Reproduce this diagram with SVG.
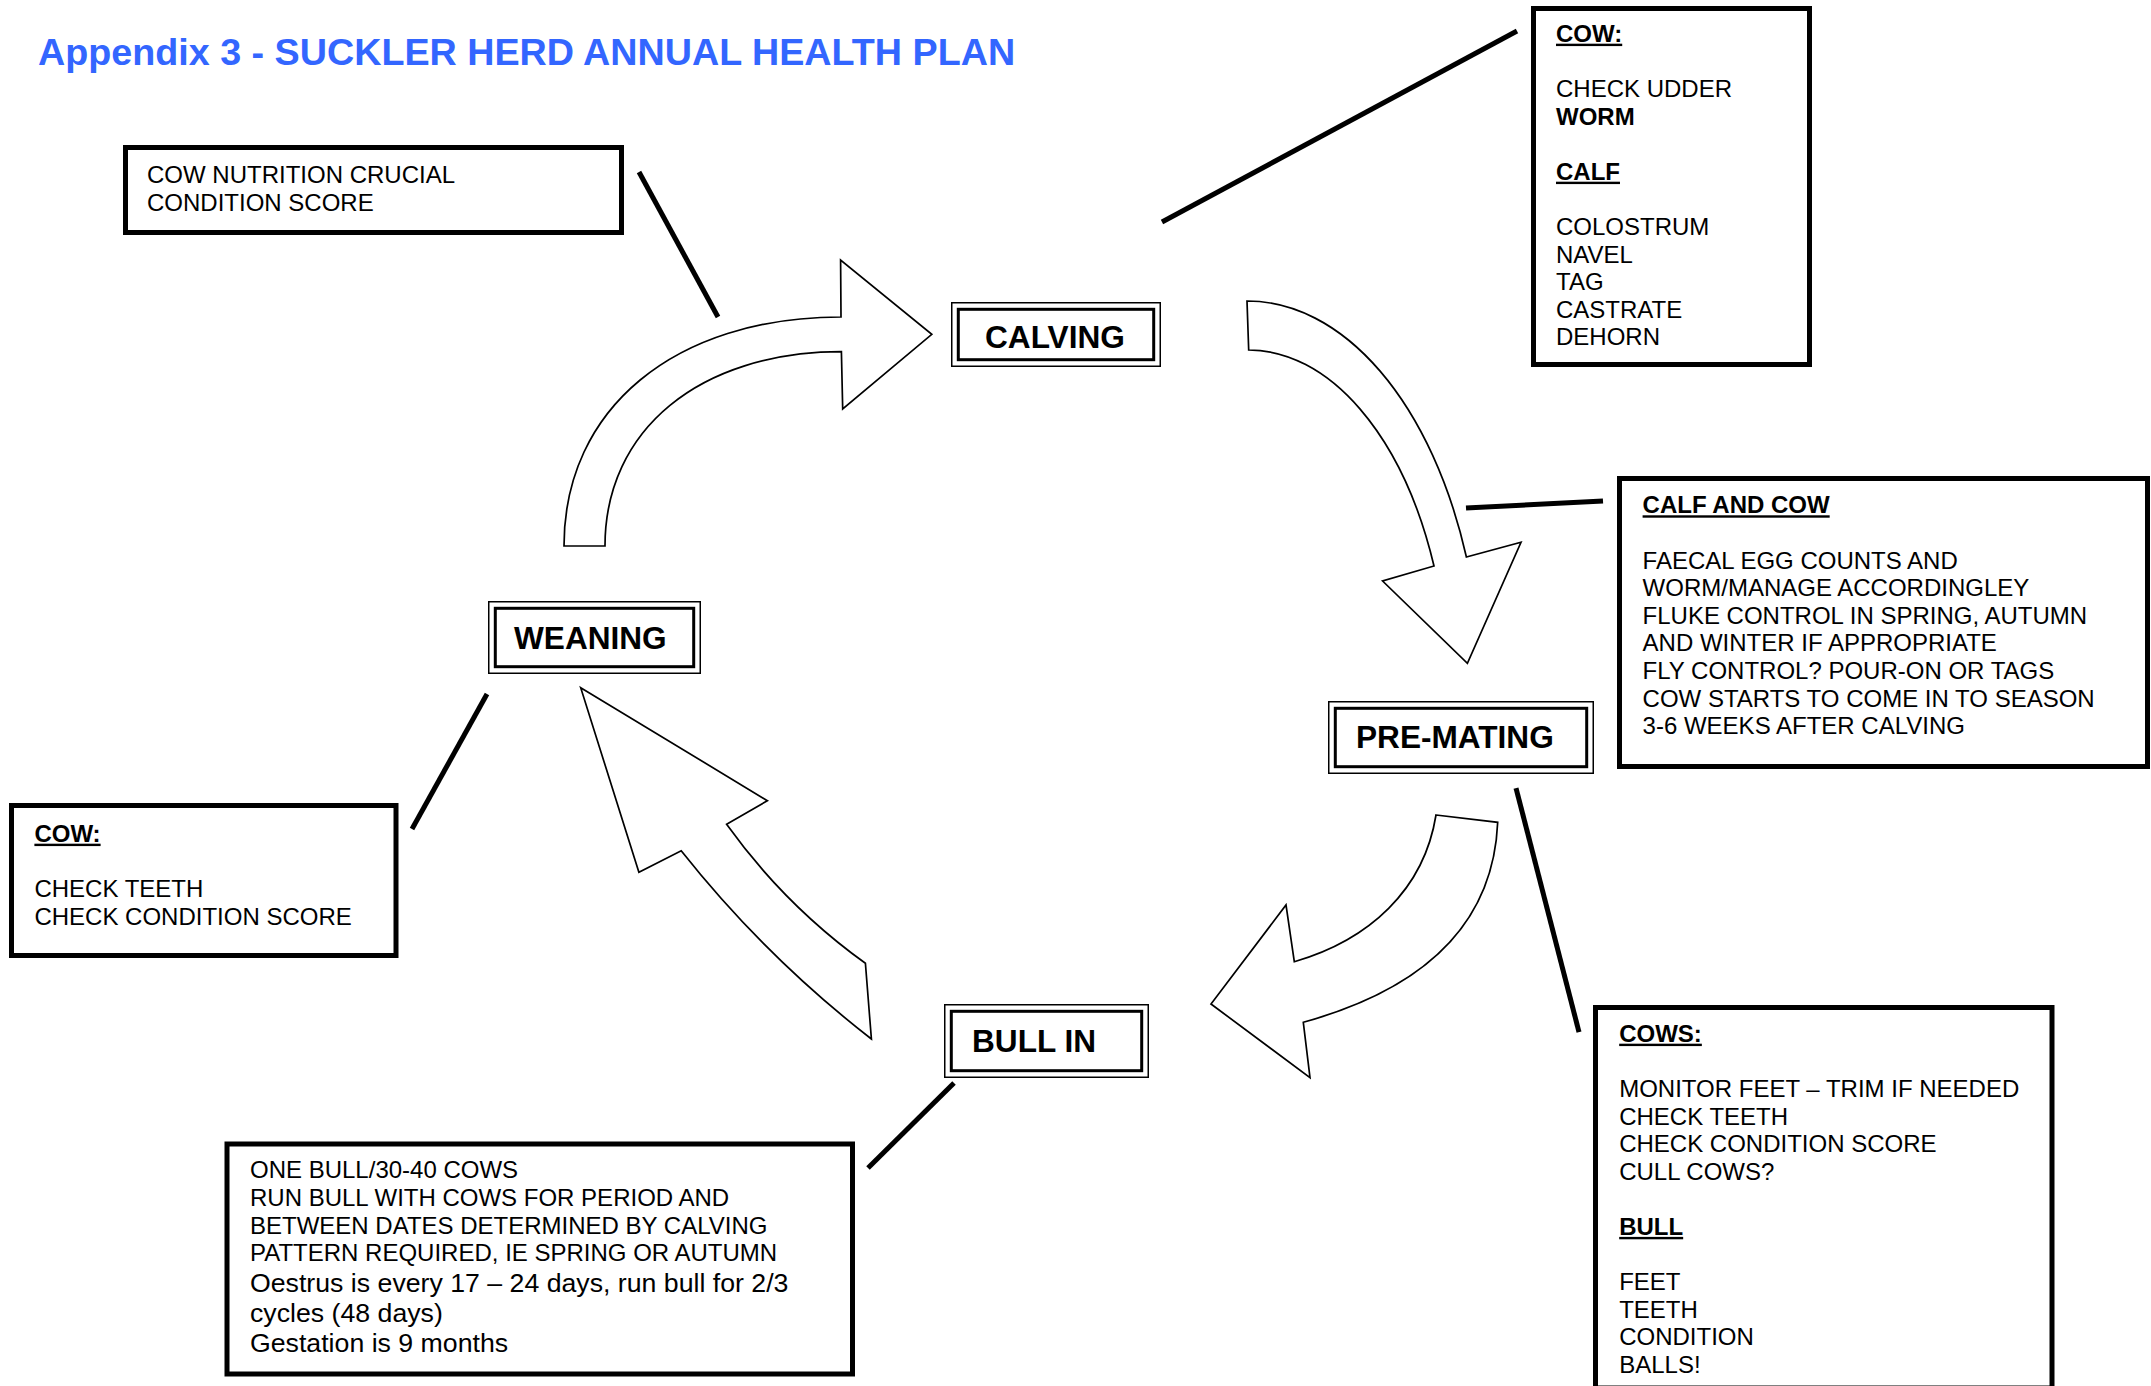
<svg xmlns="http://www.w3.org/2000/svg" width="2151" height="1386" viewBox="0 0 2151 1386">
<style>
text{font-family:"Liberation Sans",Arial,sans-serif;fill:#000;font-size:24px}
.b{font-weight:bold}
.u{text-decoration:underline}
.big{font-size:26.7px}
.title{font-size:37.7px;font-weight:bold;fill:#3366ff}
.stage{font-size:31.6px;font-weight:bold}
.box{fill:#fff;stroke:#000;stroke-width:5}
.so{fill:#fff;stroke:#000;stroke-width:1.5}
.si{fill:none;stroke:#000;stroke-width:3}
.arrow{fill:#fff;stroke:#000;stroke-width:1.7;stroke-linejoin:miter}
.conn{stroke:#000;stroke-width:5;fill:none}
</style>
<rect width="2151" height="1386" fill="#fff"/>
<text class="title" x="38" y="65">Appendix 3 - SUCKLER HERD ANNUAL HEALTH PLAN</text>

<g id="cycle-arrows">
<path id="arrow-weaning-calving" class="arrow" d="M564,546 C564,408.6 674.8,317 841,317 L840.6,260 L931.8,334.3 L842.7,409 L841.4,351.7 C699.4,352 605,429.6 605,546 Z"/>
<path id="arrow-calving-premating" class="arrow" d="M1247,301 A235,399 0 0 1 1466.4,557 L1521,542.3 L1467.4,663.3 L1382.6,581 L1434,566 A201,350 0 0 0 1248.7,350 Z"/>
<path id="arrow-premating-bullin" class="arrow" d="M1436,815 L1497.7,822.3 C1493,932 1413,992 1303.3,1022.3 L1310,1077.7 L1211,1004 L1286,905 L1294.3,961.7 C1369,940 1424,890 1436,815 Z"/>
<path id="arrow-bullin-weaning" class="arrow" d="M580.7,687.7 L767.4,800.7 L726.6,824.3 Q784.6,905.2 865.4,963.3 L871.4,1039 Q764.9,956.3 681.2,850.7 L638.9,872.3 Z"/>
</g>

<g id="connectors">
<line class="conn" x1="639" y1="172" x2="718" y2="317"/>
<line class="conn" x1="1162" y1="222" x2="1517" y2="31"/>
<line class="conn" x1="1466" y1="508" x2="1603" y2="501"/>
<line class="conn" x1="1516" y1="788" x2="1579" y2="1032"/>
<line class="conn" x1="487" y1="694" x2="412" y2="829"/>
<line class="conn" x1="954" y1="1083" x2="868" y2="1168"/>
</g>

<g id="calving">
<rect class="so" x="951.75" y="302.75" width="208.5" height="63.5"/>
<rect class="si" x="958.3" y="309.3" width="195.4" height="50.4"/>
<text class="stage" x="985" y="348">CALVING</text>
</g>
<g id="pre-mating">
<rect class="so" x="1328.75" y="701.75" width="264.5" height="71.5"/>
<rect class="si" x="1335.3" y="708.3" width="251.4" height="58.4"/>
<text class="stage" x="1356" y="748.3">PRE-MATING</text>
</g>
<g id="weaning">
<rect class="so" x="488.75" y="601.75" width="211.5" height="71.5"/>
<rect class="si" x="495.3" y="608.3" width="198.4" height="58.4"/>
<text class="stage" x="514" y="649">WEANING</text>
</g>
<g id="bull-in">
<rect class="so" x="944.75" y="1004.75" width="203.5" height="72.5"/>
<rect class="si" x="951.3" y="1011.3" width="190.4" height="59.4"/>
<text class="stage" x="972" y="1051.7">BULL IN</text>
</g>

<g id="note-nutrition">
<rect class="box" x="125.5" y="147.5" width="496" height="85"/>
<text x="147" y="183">COW NUTRITION CRUCIAL</text>
<text x="147" y="210.6">CONDITION SCORE</text>
</g>

<g id="note-calving">
<rect class="box" x="1533.5" y="8.5" width="276" height="356"/>
<text class="b u" x="1556" y="41.7">COW:</text>
<text x="1556" y="96.9">CHECK UDDER</text>
<text class="b" x="1556" y="124.5">WORM</text>
<text class="b u" x="1556" y="179.7">CALF</text>
<text x="1556" y="234.9">COLOSTRUM</text>
<text x="1556" y="262.5">NAVEL</text>
<text x="1556" y="290.1">TAG</text>
<text x="1556" y="317.7">CASTRATE</text>
<text x="1556" y="345.3">DEHORN</text>
</g>

<g id="note-premating">
<rect class="box" x="1619.5" y="478.5" width="528" height="288"/>
<text class="b u" x="1642.6" y="513.3">CALF AND COW</text>
<text x="1642.6" y="568.5">FAECAL EGG COUNTS AND</text>
<text x="1642.6" y="596.1">WORM/MANAGE ACCORDINGLEY</text>
<text x="1642.6" y="623.7">FLUKE CONTROL IN SPRING, AUTUMN</text>
<text x="1642.6" y="651.3">AND WINTER IF APPROPRIATE</text>
<text x="1642.6" y="678.9">FLY CONTROL? POUR-ON OR TAGS</text>
<text x="1642.6" y="706.5">COW STARTS TO COME IN TO SEASON</text>
<text x="1642.6" y="734.1">3-6 WEEKS AFTER CALVING</text>
</g>

<g id="note-weaning">
<rect class="box" x="11.5" y="805.5" width="384.5" height="150"/>
<text class="b u" x="34.4" y="841.7">COW:</text>
<text x="34.4" y="896.9">CHECK TEETH</text>
<text x="34.4" y="924.5">CHECK CONDITION SCORE</text>
</g>

<g id="note-bullin">
<rect class="box" x="227" y="1144" width="625.5" height="230"/>
<text x="250" y="1178.3">ONE BULL/30-40 COWS</text>
<text x="250" y="1205.9">RUN BULL WITH COWS FOR PERIOD AND</text>
<text x="250" y="1233.5">BETWEEN DATES DETERMINED BY CALVING</text>
<text x="250" y="1261.1">PATTERN REQUIRED, IE SPRING OR AUTUMN</text>
<text class="big" x="250" y="1291.7">Oestrus is every 17 – 24 days, run bull for 2/3</text>
<text class="big" x="250" y="1321.7">cycles (48 days)</text>
<text class="big" x="250" y="1351.7">Gestation is 9 months</text>
</g>

<g id="note-bull-cows">
<rect class="box" x="1595.5" y="1007.5" width="456.5" height="380.5"/>
<text class="b u" x="1619.2" y="1041.7">COWS:</text>
<text x="1619.2" y="1096.9">MONITOR FEET – TRIM IF NEEDED</text>
<text x="1619.2" y="1124.5">CHECK TEETH</text>
<text x="1619.2" y="1152.1">CHECK CONDITION SCORE</text>
<text x="1619.2" y="1179.7">CULL COWS?</text>
<text class="b u" x="1619.2" y="1234.9">BULL</text>
<text x="1619.2" y="1290.1">FEET</text>
<text x="1619.2" y="1317.7">TEETH</text>
<text x="1619.2" y="1345.3">CONDITION</text>
<text x="1619.2" y="1372.9">BALLS!</text>
</g>
</svg>
